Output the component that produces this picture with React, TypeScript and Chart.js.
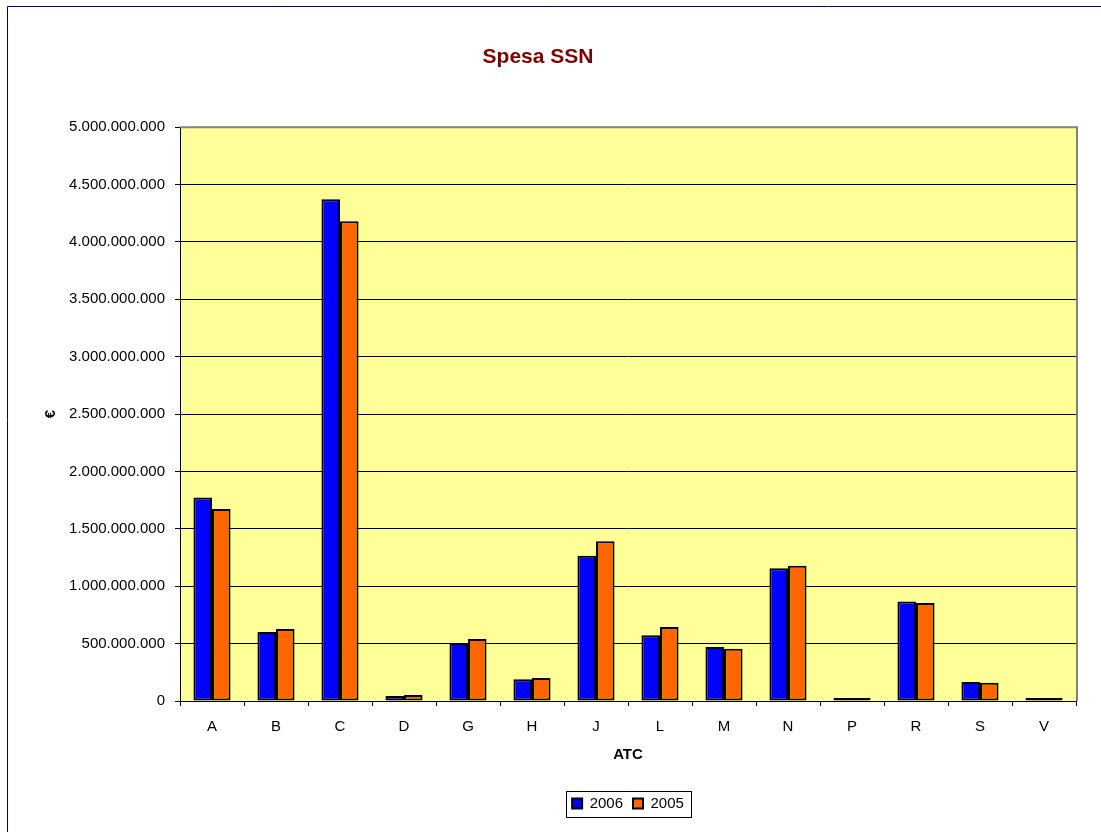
import React, { useEffect, useRef } from "react";
import { Chart, registerables } from "chart.js";

Chart.register(...registerables);

const categories = ["A", "B", "C", "D", "G", "H", "J", "L", "M", "N", "P", "R", "S", "V"];
const series2006 = [1774e6, 601e6, 4373e6, 44e6, 505e6, 190e6, 1266e6, 572e6, 470e6, 1156e6, 6e6, 868e6, 166e6, 15e6];
const series2005 = [1672e6, 627e6, 4181e6, 52e6, 540e6, 200e6, 1391e6, 645e6, 456e6, 1179e6, 5e6, 854e6, 160e6, 20e6];
const seriesNames = ["2006", "2005"];
const yMin = 0;
const yMax = 5000000000;
const yStep = 500000000;

const FONT = "'Liberation Sans', Arial, sans-serif";

function formatIt(v: number): string {
  return String(Math.round(v)).replace(/\B(?=(\d{3})+(?!\d))/g, ".");
}

const framePlugin = {
  id: "frameAndArea",
  beforeDraw(chart: any) {
    const { ctx, chartArea } = chart;
    ctx.save();
    ctx.fillStyle = "#ffffff";
    ctx.fillRect(0, 0, chart.width, chart.height);
    ctx.strokeStyle = "#000080";
    ctx.lineWidth = 1;
    ctx.beginPath();
    ctx.moveTo(7.5, chart.height);
    ctx.lineTo(7.5, 6.5);
    ctx.lineTo(chart.width, 6.5);
    ctx.stroke();
    ctx.fillStyle = "#FFFF99";
    ctx.fillRect(chartArea.left, chartArea.top, chartArea.right - chartArea.left, chartArea.bottom - chartArea.top);
    ctx.restore();
  },
  afterDatasetsDraw(chart: any) {
    const { ctx, chartArea } = chart;
    ctx.save();
    ctx.strokeStyle = "#808080";
    ctx.lineWidth = 2;
    ctx.beginPath();
    ctx.moveTo(chartArea.left, chartArea.top);
    ctx.lineTo(chartArea.right + 1, chartArea.top);
    ctx.lineTo(chartArea.right + 1, chartArea.bottom);
    ctx.stroke();
    ctx.restore();
  },
  afterDraw(chart: any) {
    const legend = chart.legend;
    if (!legend || !legend.legendHitBoxes || !legend.legendHitBoxes.length) return;
    const boxes = legend.legendHitBoxes;
    let l = Infinity, r = -Infinity, t = Infinity, b = -Infinity;
    boxes.forEach((h: any) => {
      l = Math.min(l, h.left);
      r = Math.max(r, h.left + h.width);
      t = Math.min(t, h.top);
      b = Math.max(b, h.top + h.height);
    });
    const ctx = chart.ctx;
    ctx.save();
    ctx.strokeStyle = "#000000";
    ctx.lineWidth = 1;
    ctx.strokeRect(Math.round(l - 6) + 0.5, Math.round(t - 5) + 0.5, Math.round(r - l + 13), Math.round(b - t + 11));
    ctx.restore();
  },
};

export default function App() {
  const ref = useRef<HTMLCanvasElement | null>(null);

  useEffect(() => {
    if (!ref.current) return;
    const chart = new Chart(ref.current, {
      type: "bar",
      data: {
        labels: categories,
        datasets: [
          {
            label: seriesNames[0],
            data: series2006,
            backgroundColor: "#0000FF",
            borderColor: "#000000",
            borderWidth: 2,
            borderSkipped: false,
            minBarLength: 3,
          },
          {
            label: seriesNames[1],
            data: series2005,
            backgroundColor: "#FF6600",
            borderColor: "#000000",
            borderWidth: 2,
            borderSkipped: false,
            minBarLength: 3,
          },
        ],
      },
      options: {
        responsive: false,
        animation: false,
        devicePixelRatio: 1,
        datasets: {
          bar: { categoryPercentage: 0.58, barPercentage: 1 },
        },
        layout: { padding: { left: 0, right: 25, top: 0, bottom: 11 } },
        plugins: {
          title: {
            display: true,
            text: "Spesa SSN",
            color: "#800000",
            font: { family: FONT, size: 21, weight: "bold" },
            padding: { top: 45, bottom: 57 },
          },
          legend: {
            display: true,
            position: "bottom",
            fullSize: false,
            labels: {
              color: "#000000",
              font: { family: FONT, size: 15 },
              boxWidth: 10,
              boxHeight: 10,
              padding: 10,
            },
          },
          tooltip: { enabled: false },
        },
        scales: {
          x: {
            offset: true,
            grid: {
              display: true,
              drawOnChartArea: false,
              drawTicks: true,
              tickLength: 5,
              tickColor: "#000000",
              offset: true,
            },
            border: { display: true, color: "#000000", width: 1 },
            ticks: {
              color: "#000000",
              font: { family: FONT, size: 15 },
              padding: 12,
              maxRotation: 0,
              autoSkip: false,
            },
            title: {
              display: true,
              text: "ATC",
              color: "#000000",
              font: { family: FONT, size: 15, weight: "bold" },
              padding: { top: 0, bottom: 22 },
            },
            afterFit(scale: any) {
              scale.height = 85;
            },
          },
          y: {
            min: yMin,
            max: yMax,
            grid: {
              display: true,
              drawOnChartArea: true,
              drawTicks: true,
              tickLength: 5,
              tickColor: "#000000",
              color: (c: any) => (c.tick && c.tick.value === yMax ? "rgba(0,0,0,0)" : "#000000"),
              lineWidth: 1,
            },
            border: { display: true, color: "#000000", width: 1 },
            ticks: {
              stepSize: yStep,
              color: "#000000",
              font: { family: FONT, size: 15 },
              padding: 10,
              callback: (v: any) => formatIt(Number(v)),
            },
            title: {
              display: true,
              text: "€",
              color: "#000000",
              font: { family: FONT, size: 15, weight: "bold" },
              padding: { top: 42, bottom: 0 },
            },
            afterFit(scale: any) {
              scale.width = 180;
            },
          },
        },
      },
      plugins: [framePlugin],
    });
    return () => chart.destroy();
  }, []);

  return (
    <div style={{ position: "absolute", left: 0, top: 0, width: 1101, height: 832, background: "#fff" }}>
      <canvas ref={ref} width={1101} height={832} style={{ display: "block", width: 1101, height: 832 }} />
    </div>
  );
}
